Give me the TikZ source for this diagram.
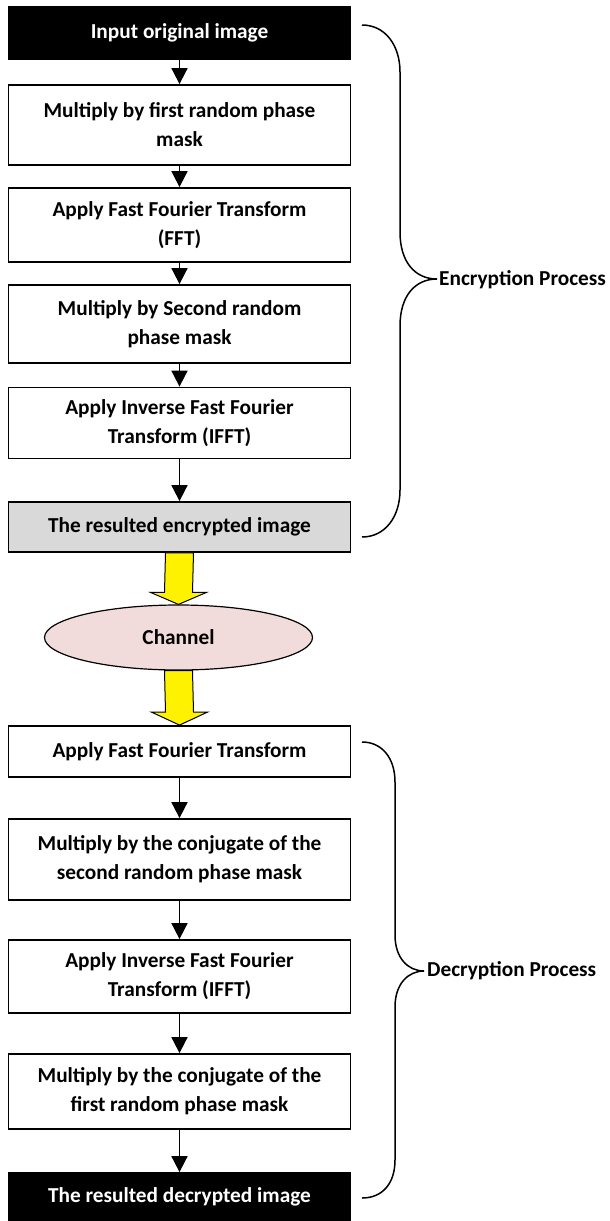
\documentclass[tikz,border=0pt]{standalone}
\usepackage{fontspec}
\setmainfont{Carlito}
\usetikzlibrary{arrows.meta,calc,shapes.geometric}
\definecolor{resultgray}{HTML}{D9D9D9}
\definecolor{channelpink}{HTML}{F2DCDB}
\begin{document}
\begin{tikzpicture}[x=1pt,y=-1pt,
  font=\fontsize{21.3}{29}\selectfont\bfseries,
  stepbox/.style={draw, line width=1.8pt, minimum width=342pt, align=center, inner sep=0pt},
  endbox/.style={stepbox, fill=black, text=white},
  flow/.style={line width=1.8pt, -{Triangle[length=16pt,width=16pt]}},
  fat/.style={draw=black, line width=1pt, fill=yellow, line join=miter},
  brace/.style={line width=1.5pt},
  bracelabel/.style={anchor=west, inner sep=0pt}]
\useasboundingbox (0,0) rectangle (610,1221);

% encryption chain
\node[endbox, minimum height=52pt] (b1) at (179.5,33) {Input original image};
\node[stepbox, minimum height=80pt] (b2) at (179.5,125) {Multiply by first random phase\\mask};
\node[stepbox, minimum height=74pt] (b3) at (179.5,225) {Apply Fast Fourier Transform\\(FFT)};
\node[stepbox, minimum height=78pt] (b4) at (179.5,324) {Multiply by Second random\\phase mask};
\node[stepbox, minimum height=71pt] (b5) at (179.5,423) {Apply Inverse Fast Fourier\\Transform (IFFT)};
\node[stepbox, fill=resultgray, minimum height=50pt] (b6) at (179.5,527) {The resulted encrypted image};

% channel
\node[ellipse, draw, line width=1.2pt, fill=channelpink, minimum width=268pt, minimum height=65pt, inner sep=0pt] (ch) at (178.5,637.5) {Channel};

% decryption chain
\node[stepbox, minimum height=51pt] (d1) at (179.5,751.5) {Apply Fast Fourier Transform};
\node[stepbox, minimum height=81pt] (d2) at (179.5,859.5) {Multiply by the conjugate of the\\second random phase mask};
\node[stepbox, minimum height=73pt] (d3) at (179.5,976.5) {Apply Inverse Fast Fourier\\Transform (IFFT)};
\node[stepbox, minimum height=75pt] (d4) at (179.5,1091.5) {Multiply by the conjugate of the\\first random phase mask};
\node[endbox, minimum height=47pt] (d5) at (179.5,1196.5) {The resulted decrypted image};

% step arrows
\draw[flow] (b1) -- (b2);
\draw[flow] (b2) -- (b3);
\draw[flow] (b3) -- (b4);
\draw[flow] (b4) -- (b5);
\draw[flow] (b5) -- (b6);
\draw[flow] (d1) -- (d2);
\draw[flow] (d2) -- (d3);
\draw[flow] (d3) -- (d4);
\draw[flow] (d4) -- (d5);

% block arrows through the channel
\draw[fat] ($(b6.south)+(-14,0)$) -- ($(ch.north)+(-14,-12)$) -- ($(ch.north)+(-28,-12)$)
  -- (ch.north) -- ($(ch.north)+(28,-12)$) -- ($(ch.north)+(14,-12)$) -- ($(b6.south)+(14,0)$) -- cycle;
\draw[fat] ($(ch.south)+(-14,0)$) -- ($(d1.north)+(-14,-13)$) -- ($(d1.north)+(-28,-13)$)
  -- (d1.north) -- ($(d1.north)+(28,-13)$) -- ($(d1.north)+(14,-13)$) -- ($(ch.south)+(14,0)$) -- cycle;

% braces
\draw[brace] (362,25) .. controls (385,25) and (400,45) .. (400,72) -- (400,232)
  .. controls (400,262) and (415,279) .. (437,279)
  .. controls (415,279) and (400,296) .. (400,326) -- (400,490)
  .. controls (400,517) and (385,537) .. (362,537);
\node[bracelabel] (enc) at (439,280) {Encryption Process};

\draw[brace] (362,742) .. controls (382,742) and (395,758) .. (395,782) -- (395,935)
  .. controls (395,958) and (408,971) .. (424,971)
  .. controls (408,971) and (395,984) .. (395,1007) -- (395,1160)
  .. controls (395,1184) and (382,1198) .. (362,1198);
\node[bracelabel] (dec) at (427,971) {Decryption Process};
\end{tikzpicture}
\end{document}
